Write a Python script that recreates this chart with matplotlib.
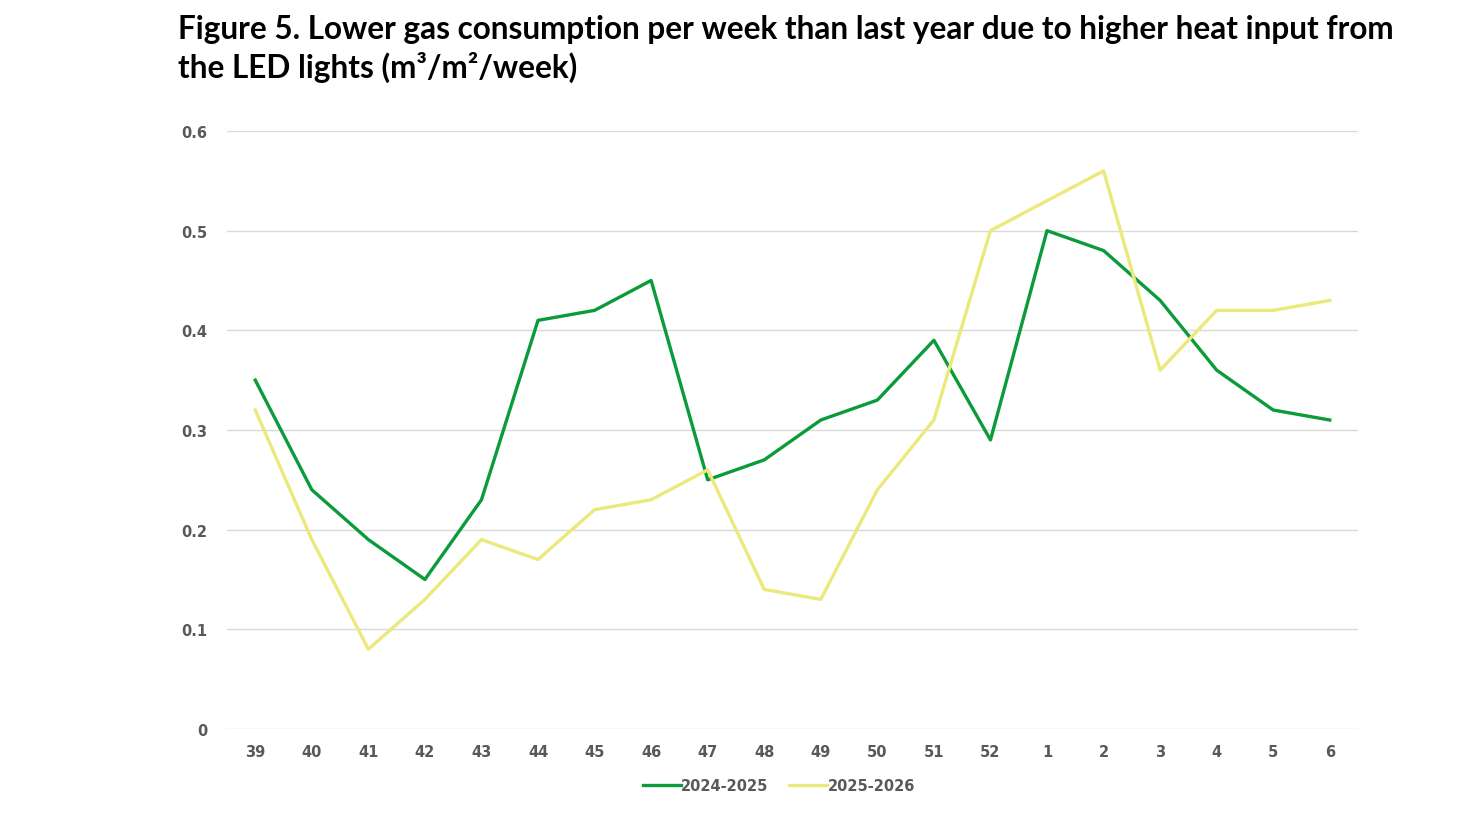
import numpy as np
import matplotlib
matplotlib.use('Agg')
import matplotlib.pyplot as plt

# week numbers and gas use (m3/m2/week)
weeks = ['39', '40', '41', '42', '43', '44', '45', '46', '47', '48',
         '49', '50', '51', '52', '1', '2', '3', '4', '5', '6']
gas_2024_2025 = [0.35, 0.24, 0.19, 0.15, 0.23, 0.41, 0.42, 0.45, 0.25, 0.27,
                 0.31, 0.33, 0.39, 0.29, 0.50, 0.48, 0.43, 0.36, 0.32, 0.31]
gas_2025_2026 = [0.32, 0.19, 0.08, 0.13, 0.19, 0.17, 0.22, 0.23, 0.26, 0.14,
                 0.13, 0.24, 0.31, 0.50, 0.53, 0.56, 0.36, 0.42, 0.42, 0.43]
y_ticks = [0, 0.1, 0.2, 0.3, 0.4, 0.5, 0.6]
y_labels = ['0', '0.1', '0.2', '0.3', '0.4', '0.5', '0.6']

fig = plt.figure(figsize=(14.72, 8.28), dpi=100)
ax = fig.add_axes([0.1542, 0.1184, 0.7684, 0.7222])

x = np.arange(len(weeks))
ax.plot(x, gas_2024_2025, color='#0b9b3b', lw=2.4, label='2024-2025')
ax.plot(x, gas_2025_2026, color='#ece97c', lw=2.4, label='2025-2026')

ax.set_xlim(-0.5, len(weeks) - 0.5)
ax.set_ylim(0, 0.6)
ax.set_xticks(x)
ax.set_xticklabels(weeks, fontweight='bold', family='DejaVu Sans')
ax.set_yticks(y_ticks)
ax.set_yticklabels(y_labels, fontweight='bold', family='DejaVu Sans')
ax.grid(axis='y', color='#d9d9d9', lw=1)
ax.set_axisbelow(True)
for s in ax.spines.values():
    s.set_visible(False)
ax.tick_params(length=0, labelsize=10.5, colors='#595959', pad=11)
ax.tick_params(axis='y', pad=14)

leg = ax.legend(loc='upper center', bbox_to_anchor=(0.488, -0.06), ncol=2,
                frameon=False, handlelength=2.6, handletextpad=0.05,
                columnspacing=1.4, prop={'family': 'DejaVu Sans',
                                          'weight': 'bold', 'size': 10.5})
for t in leg.get_texts():
    t.set_color('#595959')

fig.text(0.121, 0.982,
         'Figure 5. Lower gas consumption per week than last year due to higher heat input from\n'
         'the LED lights (m³/m²/week)',
         ha='left', va='top', fontsize=22.7, fontweight='bold',
         family='Lato', color='black', linespacing=1.3)

fig.savefig('out.png', dpi=100)
